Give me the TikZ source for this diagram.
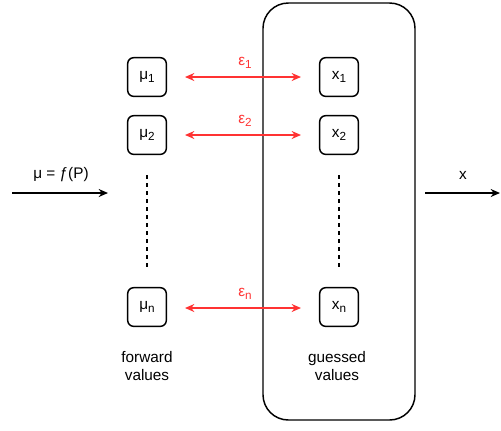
\documentclass[tikz,border=0pt]{standalone}
\usepackage{fontspec}
\setmainfont{Liberation Sans}
\usetikzlibrary{arrows.meta}
\definecolor{errred}{HTML}{FF3333}
\newcommand{\lowsub}[1]{\raisebox{-0.45ex}{\fontsize{8.8}{10}\selectfont #1}}
\begin{document}
\begin{tikzpicture}[x=0.75pt,y=-0.75pt,
  valbox/.style={draw,line width=1.1pt,rounded corners=4.5pt,minimum width=29pt,minimum height=29pt,inner sep=0pt,font=\fontsize{11.5}{13.5}\selectfont},
  lbl/.style={font=\fontsize{11.5}{13.5}\selectfont,align=center,inner sep=0pt},
  elbl/.style={lbl,text=errred},
  errarrow/.style={errred,line width=1.1pt,{Stealth[length=7pt,width=6pt]}-{Stealth[length=7pt,width=6pt]}},
  flow/.style={line width=1.1pt,-{Stealth[length=7pt,width=6pt]}},
  dots/.style={line width=1.1pt,dash pattern=on 3pt off 3pt}]
\useasboundingbox (0,0) rectangle (501,430);
\draw[line width=1.1pt,rounded corners=19pt] (263,3) rectangle (415,420);
\node[valbox] (m1) at (147,77) {μ\lowsub{1}};
\node[valbox] (m2) at (147,135) {μ\lowsub{2}};
\node[valbox] (mn) at (147,307) {μ\lowsub{n}};
\node[valbox] (x1) at (339,77) {x\lowsub{1}};
\node[valbox] (x2) at (339,135) {x\lowsub{2}};
\node[valbox] (xn) at (339,307) {x\lowsub{n}};
\coordinate (a1l) at (185,77); \coordinate (a1r) at (301,77);
\coordinate (a2l) at (185,135); \coordinate (a2r) at (301,135);
\coordinate (anl) at (185,308); \coordinate (anr) at (301,308);
\draw[errarrow] (a1l) -- (a1r);
\draw[errarrow] (a2l) -- (a2r);
\draw[errarrow] (anl) -- (anr);
\node[elbl] (e1) at (245,63) {ε\lowsub{1}};
\node[elbl] (e2) at (245,121) {ε\lowsub{2}};
\node[elbl] (en) at (245,294) {ε\lowsub{n}};
\coordinate (dm1) at (147,175); \coordinate (dm2) at (147,270);
\coordinate (dx1) at (339,175); \coordinate (dx2) at (339,270);
\draw[dots] (dm1) -- (dm2);
\draw[dots] (dx1) -- (dx2);
\coordinate (inl) at (12,193); \coordinate (inr) at (108,193);
\coordinate (outl) at (425,193); \coordinate (outr) at (500,193);
\draw[flow] (inl) -- (inr);
\draw[flow] (outl) -- (outr);
\node[lbl] (mu) at (61,175) {μ = ƒ(P)};
\node[lbl] (xo) at (463,175) {x};
\node[lbl] (fw) at (147,366) {forward\\values};
\node[lbl] (gv) at (337,366) {guessed\\values};
\end{tikzpicture}
\end{document}
